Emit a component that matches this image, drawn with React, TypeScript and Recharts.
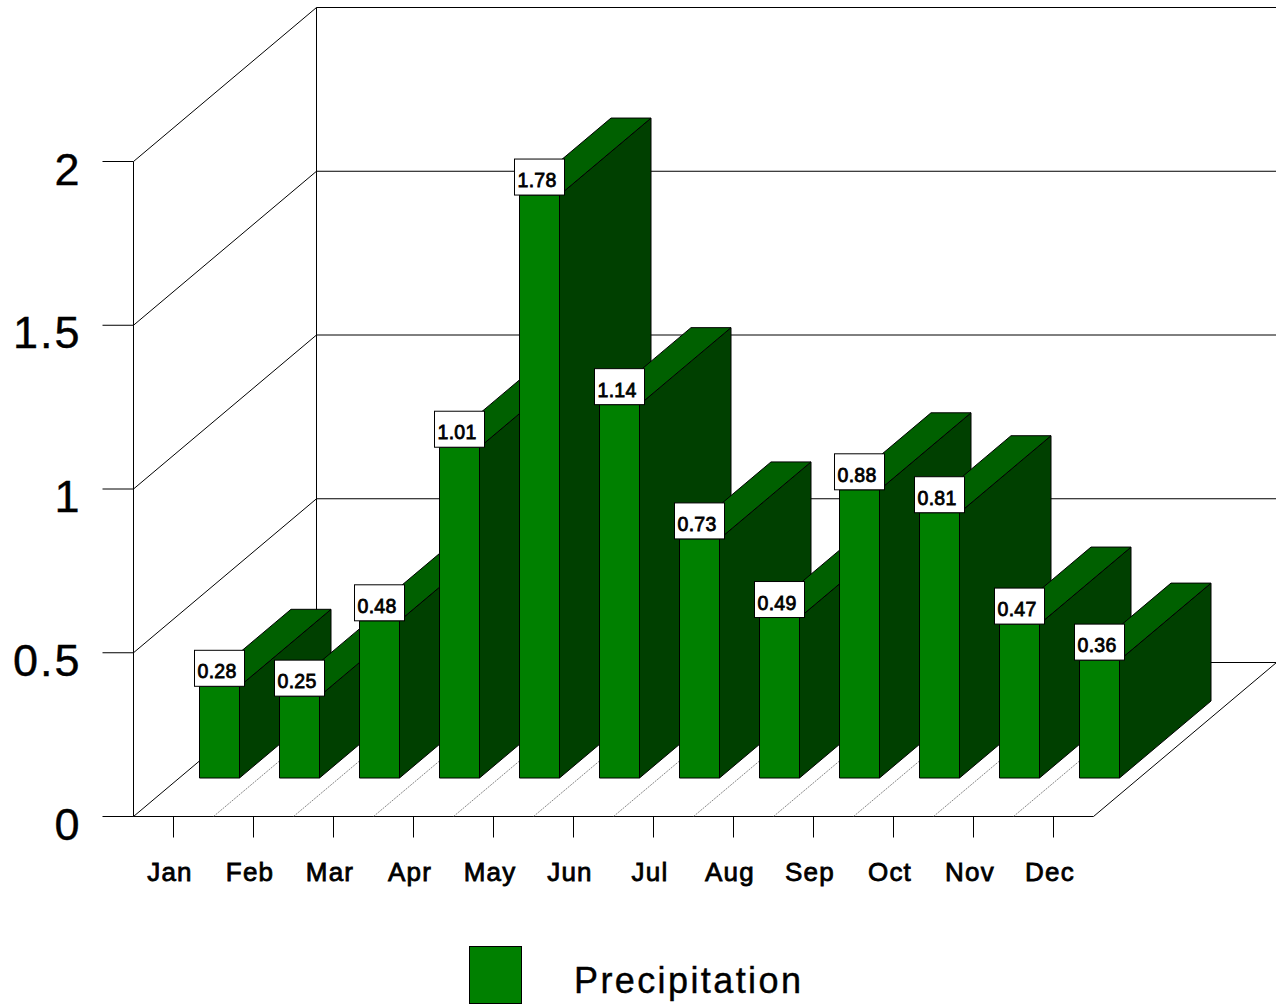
// App.tsx
import { BarChart, Bar, XAxis, YAxis, Legend, LabelList } from 'recharts'

const months = ['Jan', 'Feb', 'Mar', 'Apr', 'May', 'Jun', 'Jul', 'Aug', 'Sep', 'Oct', 'Nov', 'Dec']
const precipitation = [0.28, 0.25, 0.48, 1.01, 1.78, 1.14, 0.73, 0.49, 0.88, 0.81, 0.47, 0.36]
const yTicks = [0, 0.5, 1, 1.5, 2]

const data = months.map((month, i) => ({ month, precipitation: precipitation[i] }))

const WIDTH = 1276
const HEIGHT = 1004
const FONT = '"Liberation Sans", Arial, sans-serif'

// plot box
const PLOT_LEFT = 133.5
const PLOT_W = 960
const PLOT_H = 655
const BAND = PLOT_W / months.length

// projection of the depth axis
const DEPTH_X = 183
const DEPTH_Y = 154
const BAR_X = 46
const BAR_Y = 38.5
const BAR_DEPTH_X = 91.5
const BAR_DEPTH_Y = 77

const Y_TICK_SIZE = 31
const X_TICK_SIZE = 21

// axis ticks sit in the label layer, so bars need a higher zIndex to cover the walls
const BAR_LAYER = 3000
const LABEL_LAYER = 3100

function YTick({ y, payload }: any) {
    const value = payload.value
    const backX = PLOT_LEFT + DEPTH_X
    const backY = y - DEPTH_Y
    return (
        <g>
            <line x1={PLOT_LEFT} y1={y} x2={backX} y2={backY} stroke="#000" />
            <line x1={backX} y1={backY} x2={WIDTH} y2={backY} stroke="#000" />
            {value === 2 && <line x1={backX} y1={backY} x2={backX} y2={backY + PLOT_H} stroke="#000" />}
            {value === 0 && (
                <line
                    x1={PLOT_LEFT + PLOT_W}
                    y1={y}
                    x2={PLOT_LEFT + PLOT_W + DEPTH_X}
                    y2={backY}
                    stroke="#000"
                />
            )}
            <text
                x={PLOT_LEFT - Y_TICK_SIZE - 21}
                y={y + 23}
                textAnchor="end"
                fontFamily={FONT}
                fontSize={45}
                letterSpacing={2}
                stroke="#000"
                strokeWidth={0.4}
                fill="#000"
            >
                {value}
            </text>
        </g>
    )
}

function XTick({ x, y, payload, index }: any) {
    const floorY = y - X_TICK_SIZE
    const edge = x + BAND / 2
    return (
        <g>
            {index < months.length - 1 && (
                <line
                    x1={edge}
                    y1={floorY}
                    x2={edge + DEPTH_X}
                    y2={floorY - DEPTH_Y}
                    stroke="#666"
                    strokeWidth={0.8}
                    strokeDasharray="2 1"
                />
            )}
            <text
                x={x - 3.5}
                y={floorY + 64.5}
                textAnchor="middle"
                fontFamily={FONT}
                fontSize={26}
                letterSpacing={1.2}
                stroke="#000"
                strokeWidth={0.8}
                fill="#000"
            >
                {payload.value}
            </text>
        </g>
    )
}

function Bar3D({ x, y, width, height }: any) {
    const left = x + BAR_X
    const right = left + width
    const top = y - BAR_Y
    const bottom = top + height
    return (
        <g stroke="#000" strokeWidth={1} strokeLinejoin="round">
            <polygon
                points={`${right},${top} ${right + BAR_DEPTH_X},${top - BAR_DEPTH_Y} ${right + BAR_DEPTH_X},${bottom - BAR_DEPTH_Y} ${right},${bottom}`}
                fill="#004000"
            />
            <polygon
                points={`${left},${top} ${left + BAR_DEPTH_X},${top - BAR_DEPTH_Y} ${right + BAR_DEPTH_X},${top - BAR_DEPTH_Y} ${right},${top}`}
                fill="#006000"
            />
            <rect x={left} y={top} width={width} height={height} fill="#008000" />
        </g>
    )
}

function ValueLabel({ x, y, value }: any) {
    const left = x + BAR_X - 5
    const top = y - BAR_Y - 36
    return (
        <g>
            <rect x={left} y={top} width={50} height={36} fill="#fff" stroke="#000" />
            <text
                x={left + 3}
                y={top + 28}
                fontFamily={FONT}
                fontSize={19.5}
                letterSpacing={0.3}
                stroke="#000"
                strokeWidth={0.8}
                fill="#000"
            >
                {Number(value).toFixed(2)}
            </text>
        </g>
    )
}

function LegendBox({ payload }: any) {
    const item = payload?.[0]
    if (!item) return null
    return (
        <svg width={WIDTH} height={58} style={{ display: 'block' }}>
            <rect x={469.5} y={0.5} width={52} height={57} fill={item.color} stroke="#000" />
            <text x={574} y={47} fontFamily={FONT} fontSize={36} letterSpacing={2.4} stroke="#000" strokeWidth={0.4} fill="#000">
                {item.value}
            </text>
        </svg>
    )
}

export default function App() {
    return (
        <div style={{ position: 'absolute', left: 0, top: 0, width: WIDTH, height: HEIGHT, background: '#fff' }}>
            <BarChart
                width={WIDTH}
                height={HEIGHT}
                data={data}
                margin={{ top: 161.5, right: 182.5, bottom: 69.5, left: 0 }}
            >
                <XAxis
                    dataKey="month"
                    height={60}
                    interval={0}
                    stroke="#000"
                    tickSize={X_TICK_SIZE}
                    tickMargin={0}
                    tick={<XTick />}
                />
                <YAxis
                    width={PLOT_LEFT}
                    domain={[0, 2]}
                    ticks={yTicks}
                    stroke="#000"
                    tickSize={Y_TICK_SIZE}
                    tickMargin={0}
                    tick={<YTick />}
                />
                <Legend
                    content={<LegendBox />}
                    wrapperStyle={{ position: 'absolute', left: 0, top: 946, width: WIDTH, height: 58 }}
                />
                <Bar
                    dataKey="precipitation"
                    name="Precipitation"
                    fill="#008000"
                    barSize={40}
                    shape={<Bar3D />}
                    isAnimationActive={false}
                    zIndex={BAR_LAYER}
                >
                    <LabelList dataKey="precipitation" content={<ValueLabel />} zIndex={LABEL_LAYER} />
                </Bar>
            </BarChart>
        </div>
    )
}
